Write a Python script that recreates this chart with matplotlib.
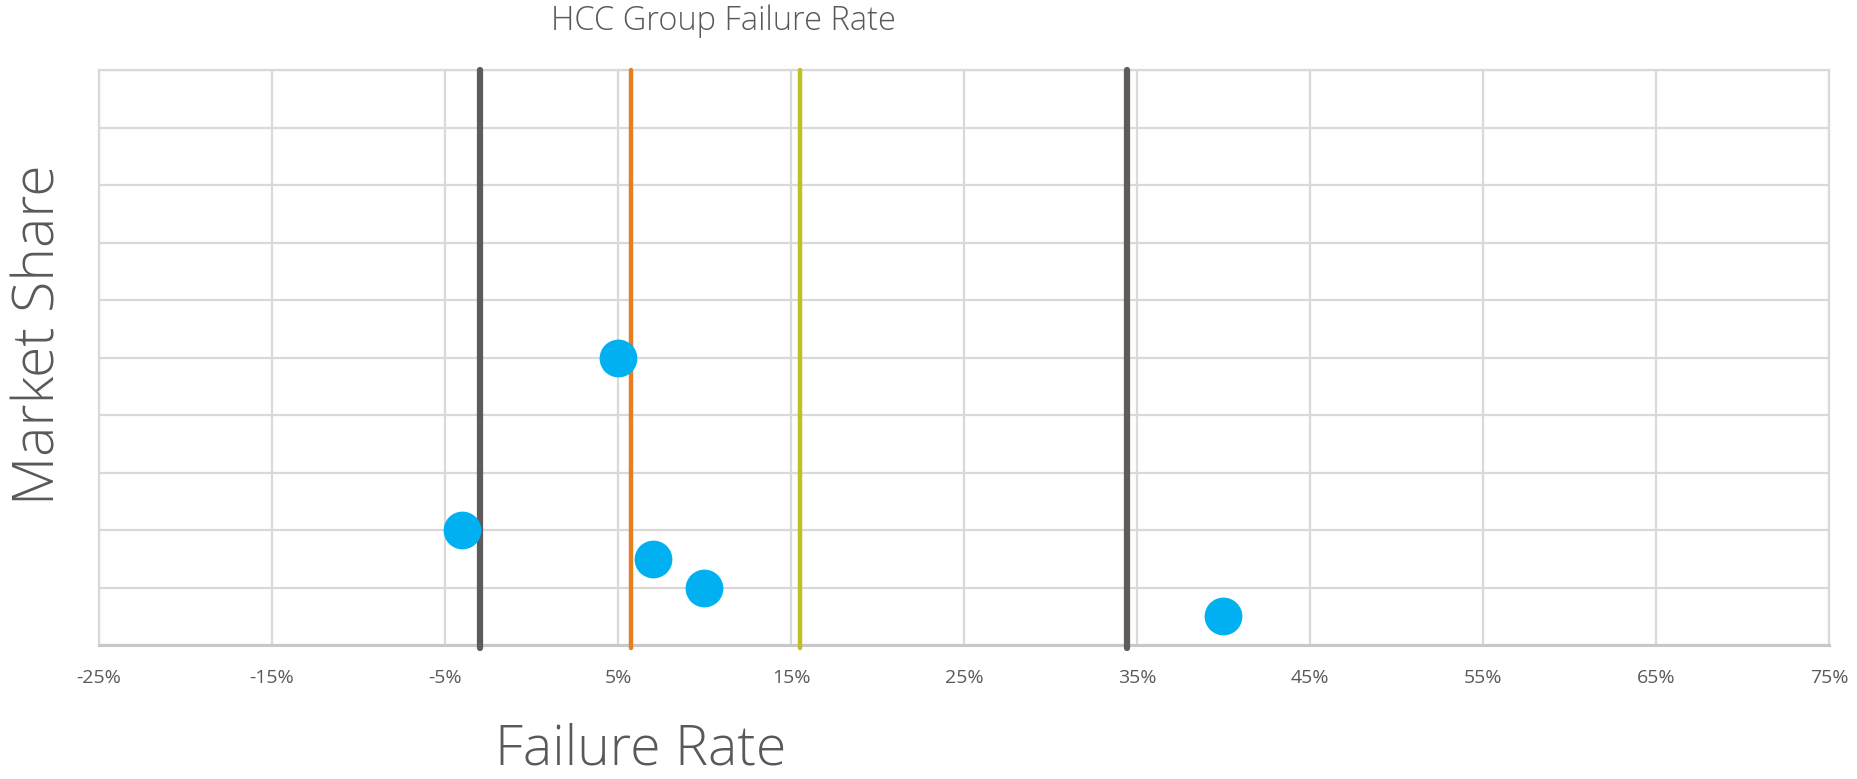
import matplotlib
matplotlib.use("Agg")
import matplotlib.pyplot as plt
import numpy as np

# Data
failure_rate = [0.05, -0.04, 0.07, 0.10, 0.40]
market_share = [0.50, 0.20, 0.15, 0.10, 0.05]
ref_lines = [-0.03, 0.0575, 0.155, 0.344]
ref_colors = ["#5f5b59", "#e67e22", "#bfbf26", "#5f5b59"]
ref_widths = [4.5, 3.2, 3.2, 4.5]
x_ticks = [-0.25, -0.15, -0.05, 0.05, 0.15, 0.25, 0.35, 0.45, 0.55, 0.65, 0.75]
x_labels = ["-25%", "-15%", "-5%", "5%", "15%", "25%", "35%", "45%", "55%", "65%", "75%"]
y_ticks = [0.0, 0.1, 0.2, 0.3, 0.4, 0.5, 0.6, 0.7, 0.8, 0.9, 1.0]

W, H = 1858, 779
fig = plt.figure(figsize=(W / 100, H / 100), dpi=100)
L, R, T, B = 99, 1829, 70, 645
ax = fig.add_axes([L / W, 1 - B / H, (R - L) / W, (B - T) / H])

txt = "#595959"
font = "Open Sans"

ax.set_xlim(-0.25, 0.75)
ax.set_ylim(0, 1)
ax.set_xticks(x_ticks)
ax.set_xticklabels(x_labels, fontsize=14, color=txt, family=font)
ax.set_yticks(y_ticks)
ax.set_yticklabels([])
ax.tick_params(axis="both", length=0, pad=17)
ax.grid(True, color="#d9d9d9", linewidth=1.6, zorder=0)
for s in ["top", "left", "right"]:
    ax.spines[s].set_color("#d9d9d9")
    ax.spines[s].set_linewidth(1.6)
ax.spines["bottom"].set_color("#c8c8c8")
ax.spines["bottom"].set_linewidth(2.2)

for xv, c, lw in zip(ref_lines, ref_colors, ref_widths):
    ax.plot([xv, xv], [-0.005, 1.0], color=c, linewidth=lw, zorder=3,
            solid_capstyle="round", clip_on=False)

ax.scatter(failure_rate, market_share, s=740, color="#00b0f0", zorder=4,
           linewidths=0)

fig.text(723 / W, 1 - 21 / H, "HCC Group Failure Rate", ha="center", va="center",
         fontsize=23.5, color=txt, family=font, fontweight="light")
fig.text(641 / W, 1 - 750 / H, "Failure Rate", ha="center", va="center",
         fontsize=40, color=txt, family=font, fontweight="light")
fig.text(40 / W, 1 - 335 / H, "Market Share", ha="center", va="center",
         rotation=90, fontsize=41, color=txt, family=font, fontweight="light")

fig.savefig("out.png", dpi=100, facecolor="white")
